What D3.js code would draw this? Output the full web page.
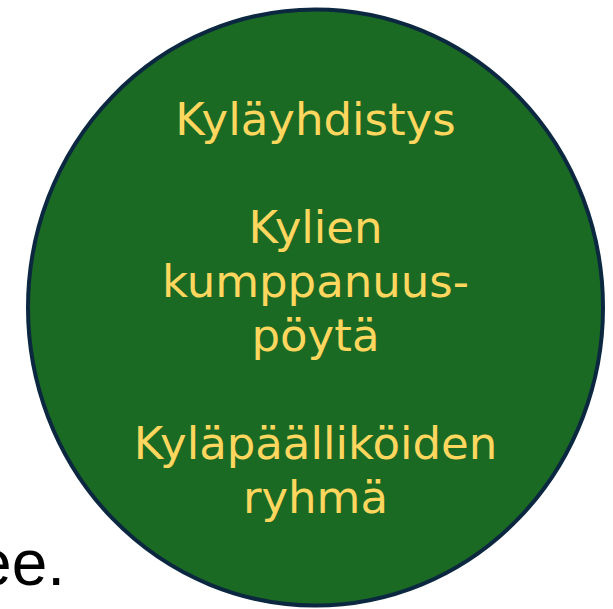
<!DOCTYPE html>
<html><head><meta charset="utf-8">
<script src="https://cdn.jsdelivr.net/npm/d3@7"></script>
<style>html,body{margin:0;padding:0;background:#fff;overflow:hidden}</style>
</head><body>
<svg id="c" width="613" height="609"></svg>
<script>
const groups = ["Kyläyhdistys", "Kylien kumppanuus-pöytä", "Kyläpäälliköiden ryhmä"];
const lines = ["Kyläyhdistys", "", "Kylien", "kumppanuus-", "pöytä", "", "Kyläpäälliköiden", "ryhmä"];
const sideText = "ee.";

const svg = d3.select("#c");
const cx = 315.5, cy = 307.5, rx = 287.5, ry = 298;

svg.append("ellipse")
  .attr("cx", cx).attr("cy", cy).attr("rx", rx).attr("ry", ry)
  .attr("fill", "#1b6a24").attr("stroke", "#0c2840").attr("stroke-width", 4);

const y = d3.scaleLinear().domain([0, lines.length - 1]).range([135, 513]);
const font = "'DejaVu Sans', sans-serif";
svg.append("g").selectAll("text").data(lines).join("text")
  .attr("x", cx).attr("y", (d, i) => y(i))
  .attr("text-anchor", "middle")
  .attr("font-family", font).attr("font-size", 45)
  .attr("fill", "#ffd75e")
  .text(d => d);

svg.append("text").attr("x", 65).attr("y", 585).attr("text-anchor", "end")
  .attr("font-family", "'Liberation Sans', Arial, sans-serif").attr("font-size", 64).attr("fill", "#000")
  .text(sideText);
</script>
</body></html>
